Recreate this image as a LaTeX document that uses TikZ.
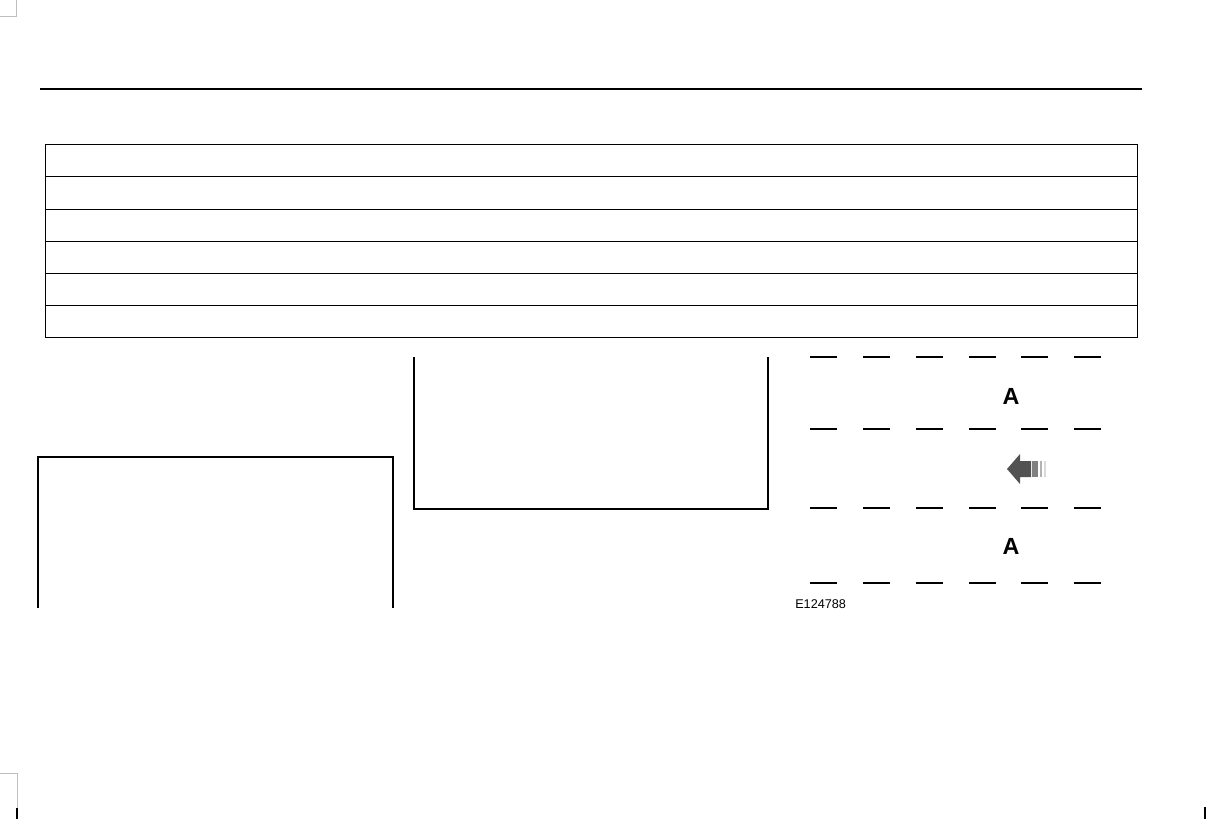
\documentclass[tikz,border=0pt]{standalone}
\usepackage{fontspec}
\setmainfont{Liberation Sans}
\begin{document}
\begin{tikzpicture}[x=0.75pt,y=-0.75pt,
  rule/.style={line width=1.1pt,black},
  tline/.style={line width=0.65pt,black},
  boxline/.style={line width=1.6pt,black},
  crop/.style={line width=0.6pt,black!25},
  dashrow/.style={line width=1.5pt,black},
  dashthick/.style={line width=2.2pt,black},
  letter/.style={font=\fontsize{17.5}{20}\selectfont\bfseries,inner sep=0pt},
  code/.style={font=\fontsize{9.5}{11}\selectfont,inner sep=0pt,anchor=west}]
\useasboundingbox (0,0) rectangle (1223,819);
% crop marks
\draw[crop] (16.5,0) -- (16.5,16.5) -- (0,16.5);
\draw[crop] (0,773) -- (17,773) -- (17,808);
\draw[line width=0.9pt,black] (17,808) -- (17,819);
\draw[line width=0.9pt,black] (1205,807) -- (1205,819);
% top rule
\draw[rule] (40,89) -- (1142,89);
% table
\draw[tline] (45,144) rectangle (1137,337);
\foreach \yy in {176,209,241,273,305} \draw[tline] (45,\yy) -- (1137,\yy);
% left box (open bottom)
\draw[boxline] (38,608) -- (38,457) -- (393,457) -- (393,608);
% middle box (open top)
\draw[boxline] (414,357) -- (414,509) -- (768,509) -- (768,357);
% lane dashes
\foreach \xx in {810,863,916,969,1021,1074} {
  \draw[dashrow] (\xx,357) -- ++(27,0);
  \draw[dashrow] (\xx,429) -- ++(27,0);
  \draw[dashthick] (\xx,508) -- ++(27,0);
  \draw[dashrow] (\xx,582.5) -- ++(27,0);
}
\node[letter] (a1) at (1011,396) {A};
\node[letter] (a2) at (1011,546) {A};
% arrow
\fill[black!68] (1007,469) -- (1020,454) -- (1020,461) -- (1031,461) -- (1031,477) -- (1020,477) -- (1020,484) -- cycle;
\fill[black!50] (1032,461) rectangle (1038,477);
\fill[black!30] (1040,461) rectangle (1042,477);
\fill[black!15] (1044,461) rectangle (1046,477);
\node[code] (code) at (795,604) {E124788};
\end{tikzpicture}
\end{document}
